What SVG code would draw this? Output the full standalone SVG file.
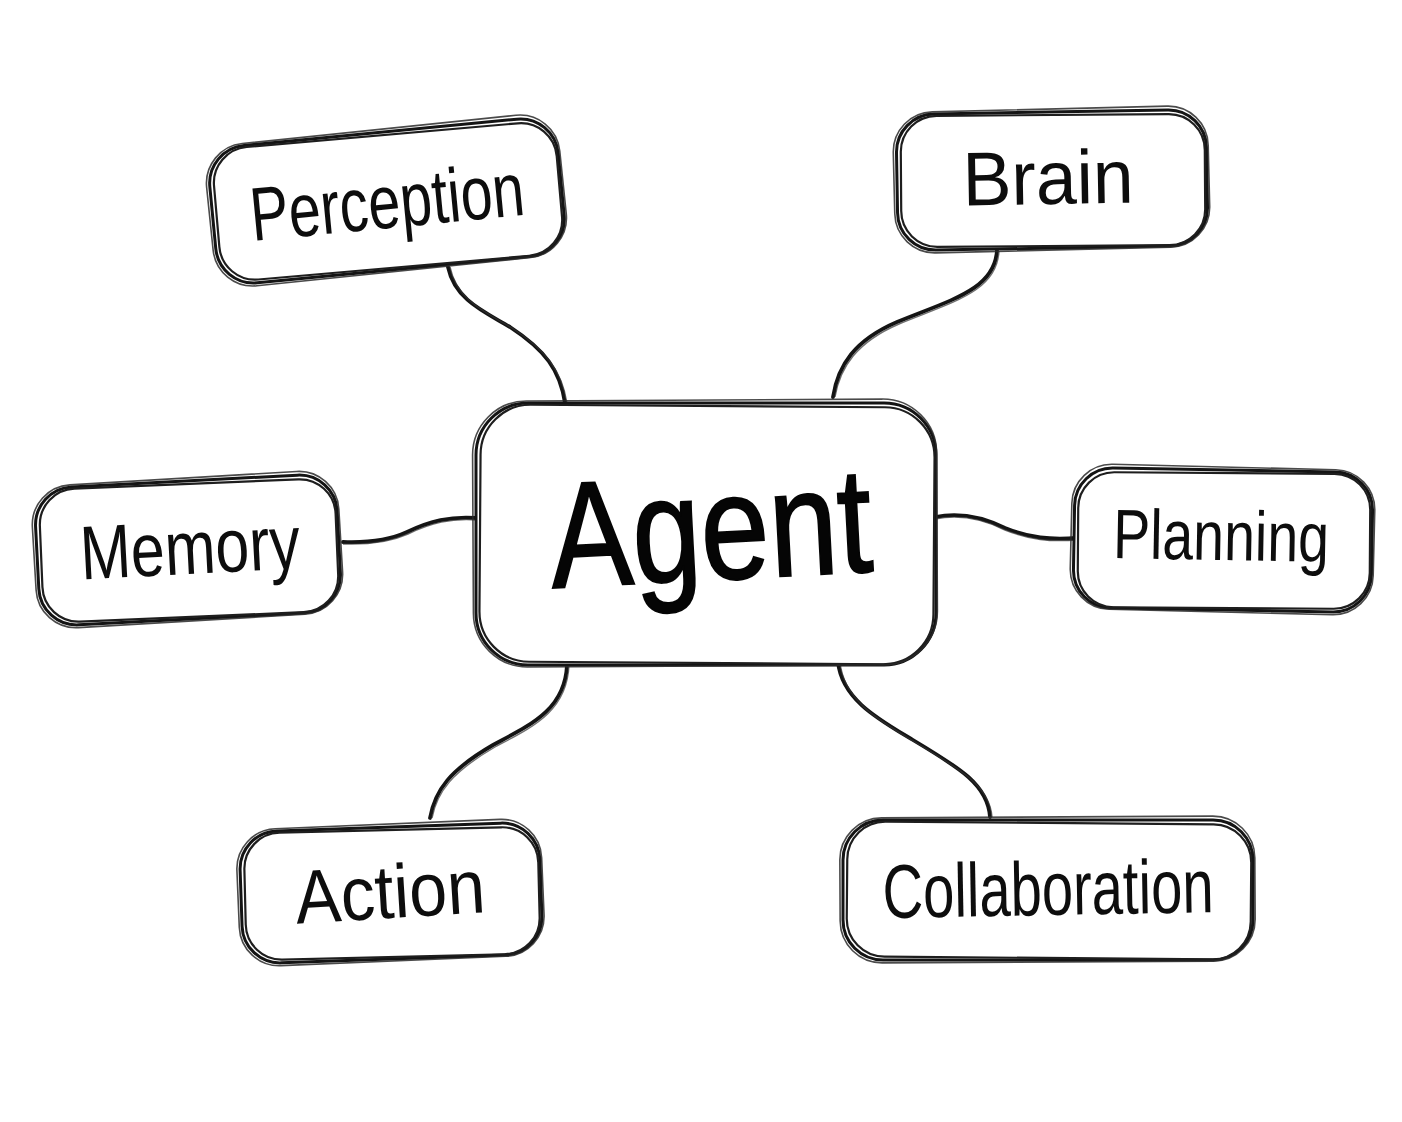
<svg xmlns="http://www.w3.org/2000/svg" width="1402" height="1122" viewBox="0 0 1402 1122">
<style>
.bg{fill:#ffffff}
.b1{fill:#ffffff;stroke:#141414;stroke-width:3}
.b2{fill:none;stroke:#1e1e1e;stroke-width:2.2}
.b3{fill:none;stroke:#2a2a2a;stroke-width:1.6;opacity:0.85}
.lbl{font-family:"Liberation Sans",Arial,sans-serif;font-size:76px;fill:#0d0d0d;text-anchor:middle}
.big{font-family:"Liberation Sans",Arial,sans-serif;font-size:150px;fill:#050505;stroke:#050505;stroke-width:2;text-anchor:middle}
.c1{fill:none;stroke:#141414;stroke-width:3.8;stroke-linecap:round}
.c2{fill:none;stroke:#333;stroke-width:1.4;opacity:0.7}
</style>
<rect class="bg" x="0" y="0" width="1402" height="1122"/>
<g id="connectors">
<path class="c1" d="M448,267 C455,300 485,312 510,327 C545,350 560,370 565,403"/>
<path class="c2" d="M450,267 C457,301 487,313 512,328 C547,351 562,372 567,403"/>
<path class="c1" d="M997,250 C995,290 950,300 897,322 C855,340 838,365 833,397"/>
<path class="c2" d="M999,251 C997,292 952,302 899,324 C857,342 840,367 835,397"/>
<path class="c1" d="M343,542 C370,543 390,540 407,532 C430,521 450,516 477,518"/>
<path class="c2" d="M343,544 C370,545 390,542 408,534 C431,523 451,518 477,520"/>
<path class="c1" d="M935,517 C960,512 985,518 1005,528 C1030,538 1050,540 1077,538"/>
<path class="c2" d="M935,519 C960,514 985,520 1005,530 C1030,540 1050,542 1077,540"/>
<path class="c1" d="M567,665 C565,710 530,725 493,745 C450,770 435,790 430,818"/>
<path class="c2" d="M569,665 C567,712 532,727 495,747 C452,772 437,792 432,818"/>
<path class="c1" d="M838,662 C842,700 880,720 913,740 C960,768 988,785 990,817"/>
<path class="c2" d="M840,662 C844,702 882,722 915,742 C962,770 990,787 992,817"/>
</g>
<g id="agent" transform="translate(706,534)">
<rect class="b1" x="-230" y="-131" width="460" height="262" rx="52"/>
<rect class="b2" x="-226" y="-128" width="454" height="257" rx="50" transform="rotate(0.4)"/>
<rect class="b3" x="-233" y="-134" width="464" height="266" rx="54" transform="rotate(-0.3)"/>
<text class="big" x="5" y="46" textLength="322" lengthAdjust="spacingAndGlyphs" transform="rotate(-3)">Agent</text>
</g>
<g id="perception" transform="translate(387,201) rotate(-5.5)">
<rect class="b1" x="-175" y="-69" width="350" height="138" rx="38"/>
<rect class="b2" x="-171" y="-66" width="344" height="133" rx="36" transform="rotate(0.5)"/>
<rect class="b3" x="-178" y="-72" width="355" height="143" rx="40" transform="rotate(-0.4)"/>
<text class="lbl" x="0" y="27" textLength="275" lengthAdjust="spacingAndGlyphs">Perception</text>
</g>
<g id="brain" transform="translate(1052,180) rotate(-1)">
<rect class="b1" x="-155" y="-68" width="310" height="136" rx="38"/>
<rect class="b2" x="-151" y="-65" width="304" height="131" rx="36" transform="rotate(0.6)"/>
<rect class="b3" x="-158" y="-71" width="315" height="141" rx="40" transform="rotate(-0.4)"/>
<text class="lbl" x="-4" y="24" textLength="171" lengthAdjust="spacingAndGlyphs">Brain</text>
</g>
<g id="memory" transform="translate(188,550) rotate(-3)">
<rect class="b1" x="-151" y="-69" width="302" height="138" rx="38"/>
<rect class="b2" x="-147" y="-66" width="296" height="133" rx="36" transform="rotate(0.6)"/>
<rect class="b3" x="-154" y="-72" width="307" height="143" rx="40" transform="rotate(-0.4)"/>
<text class="lbl" x="2" y="24" textLength="220" lengthAdjust="spacingAndGlyphs">Memory</text>
</g>
<g id="planning" transform="translate(1223,540) rotate(1)">
<rect class="b1" x="-149" y="-70" width="298" height="140" rx="38"/>
<rect class="b2" x="-145" y="-67" width="292" height="135" rx="36" transform="rotate(-0.6)"/>
<rect class="b3" x="-152" y="-73" width="303" height="145" rx="40" transform="rotate(0.4)"/>
<text class="lbl" x="-2" y="20" textLength="216" lengthAdjust="spacingAndGlyphs" style="font-size:70px">Planning</text>
</g>
<g id="action" transform="translate(391,893) rotate(-2)">
<rect class="b1" x="-150" y="-66" width="300" height="132" rx="38"/>
<rect class="b2" x="-146" y="-63" width="294" height="127" rx="36" transform="rotate(0.6)"/>
<rect class="b3" x="-153" y="-69" width="305" height="137" rx="40" transform="rotate(-0.4)"/>
<text class="lbl" x="-1" y="25" textLength="190" lengthAdjust="spacingAndGlyphs" transform="rotate(-1.5)">Action</text>
</g>
<g id="collaboration" transform="translate(1048,890)">
<rect class="b1" x="-205" y="-70" width="410" height="140" rx="40"/>
<rect class="b2" x="-201" y="-67" width="404" height="135" rx="38" transform="rotate(0.5)"/>
<rect class="b3" x="-208" y="-73" width="415" height="145" rx="42" transform="rotate(-0.3)"/>
<text class="lbl" x="0" y="25" textLength="331" lengthAdjust="spacingAndGlyphs" transform="rotate(-1)">Collaboration</text>
</g>
</svg>
